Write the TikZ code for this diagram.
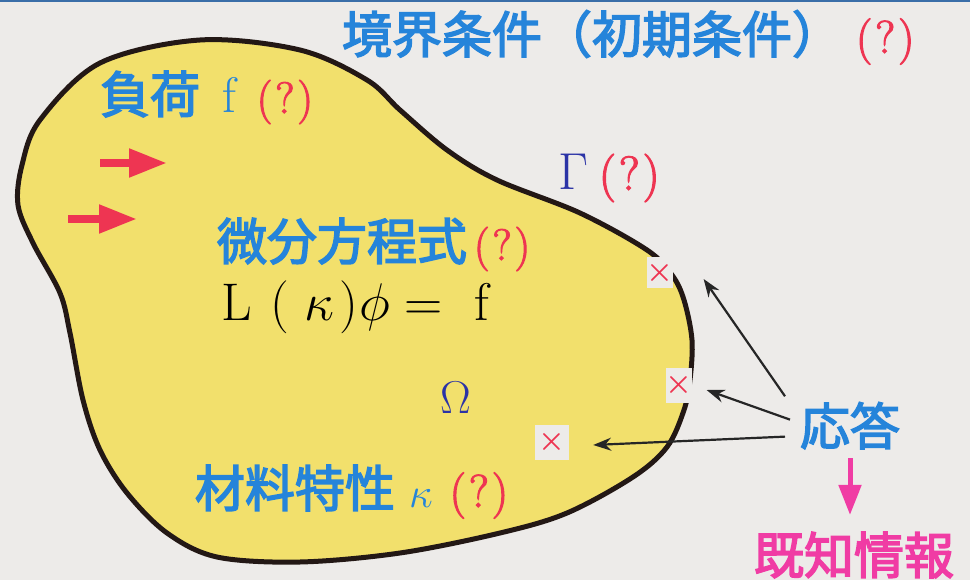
\RequirePackage{fix-cm}
\documentclass[tikz,border=0pt]{standalone}
\usepackage{fontspec}
\newfontfamily\cjk[FakeBold=3]{Noto Sans CJK JP}
\newfontfamily\qfont[FakeBold=2.5]{Latin Modern Roman}
\usetikzlibrary{arrows.meta}
\definecolor{bg}{HTML}{EDEBE9}
\definecolor{blobfill}{HTML}{F2E06C}
\definecolor{outline}{HTML}{231815}
\definecolor{tblue}{HTML}{2584DA}
\definecolor{qred}{HTML}{EE3552}
\definecolor{dkblue}{HTML}{2B33A6}
\definecolor{kpink}{HTML}{F03CA4}
\definecolor{topblue}{HTML}{3A6EA8}
\newcommand{\qm}[1]{{\qfont\color{qred}\fontsize{#1}{#1}\selectfont(\kern3pt?\kern3pt)}}
\begin{document}
\begin{tikzpicture}[x=1pt,y=-1pt,
  lbl/.style={inner sep=0pt, outer sep=0pt, anchor=base west, text=tblue,
    font=\cjk\fontsize{50}{60}\selectfont},
  xbox/.style={fill=bg, inner sep=0pt, minimum width=#1, text=qred,
    font=\boldmath\fontsize{30}{30}\selectfont},
  arr/.style={draw=black!85, line width=2.2pt, -{Stealth[length=18pt,width=13pt]}},
  redarr/.style={draw=qred, line width=8pt, -{Triangle[length=38pt,width=27pt]}},
  pinkarr/.style={draw=kpink, line width=5pt, -{Triangle[length=30pt,width=22pt]}},
  blob/.style={draw=outline, line width=5pt, fill=blobfill}]
\useasboundingbox (0,0) rectangle (970,580);
\fill[bg] (0,0) rectangle (970,580);
\fill[topblue] (0,0) rectangle (970,2.5);
% region
\draw[blob] plot[smooth cycle, tension=0.55] coordinates {
 (200,40) (300,50) (367,80) (400,110) (447,150) (497,180) (580,213) (647,250)
 (672,275) (684,300) (692,340) (690,380) (684,410) (667,447) (633,477) (567,513)
 (500,533) (400,553) (300,562) (217,557) (167,533) (127,493) (100,450) (83,400)
 (70,333) (60,293) (33,243) (18,205) (22,165) (40,120) (100,63)};
% labels
\node[lbl] (title) at (342,53) {境界条件（初期条件）\hspace{14pt}\qm{46}};
\node[lbl] (load) at (100,113) {負荷\hspace{22pt}{\normalfont\fontsize{50}{50}\selectfont f}\hspace{21pt}\qm{44}};
\node[lbl] (de) at (217,260) {微分方程式\hspace{7pt}\qm{44}};
\node[lbl, text=black, font=\normalfont\fontsize{53}{60}\selectfont] (eq) at (221,320)
  {\rlap{$\mathrm{L}$}\hspace{49pt}\rlap{$($}\hspace{34pt}\rlap{$\kappa$}\hspace{35pt}\rlap{$)$}\hspace{20pt}\rlap{$\phi$}\hspace{45pt}\rlap{$=$}\hspace{70pt}$\mathrm{f}$};
\node[lbl, text=dkblue, font=\normalfont\fontsize{52}{60}\selectfont] (gam) at (558,190)
  {$\Gamma$\hspace{11pt}\qm{48}};
\node[lbl, text=dkblue, font=\normalfont\fontsize{46}{50}\selectfont] (om) at (440,413) {$\Omega$};
\node[lbl] (mat) at (195,507) {材料特性\hspace{14pt}{\normalfont\fontsize{42}{42}\selectfont$\kappa$}\hspace{17pt}\qm{46}};
\node[lbl] (resp) at (800,445) {応答};
\node[lbl, text=kpink] (known) at (754,574) {既知情報};
% load arrows
\coordinate (a1s) at (100,163);
\coordinate (a1e) at (167,163);
\coordinate (a2s) at (68,219);
\coordinate (a2e) at (137,219);
\draw[redarr] (a1s) -- (a1e);
\draw[redarr] (a2s) -- (a2e);
% response points
\node[xbox=26pt, minimum height=31pt] (b1) at (660,273) {$\times$};
\node[xbox=24pt, minimum height=35pt] (b2) at (679,385) {$\times$};
\node[xbox=34pt, minimum height=35pt] (b3) at (552,442) {$\times$};
\draw[arr] ([shift={(-15,-6)}]resp.north west) -- ([shift={(30,6)}]b1.east);
\draw[arr] ([shift={(-10,-6)}]resp.west) -- ([shift={(14,5)}]b2.east);
\draw[arr] ([shift={(-15,11)}]resp.west) -- ([shift={(24,3)}]b3.east);
\draw[pinkarr, shorten <=9pt, shorten >=17pt] (resp.south) -- (resp.south |- known.north);
\end{tikzpicture}
\end{document}
